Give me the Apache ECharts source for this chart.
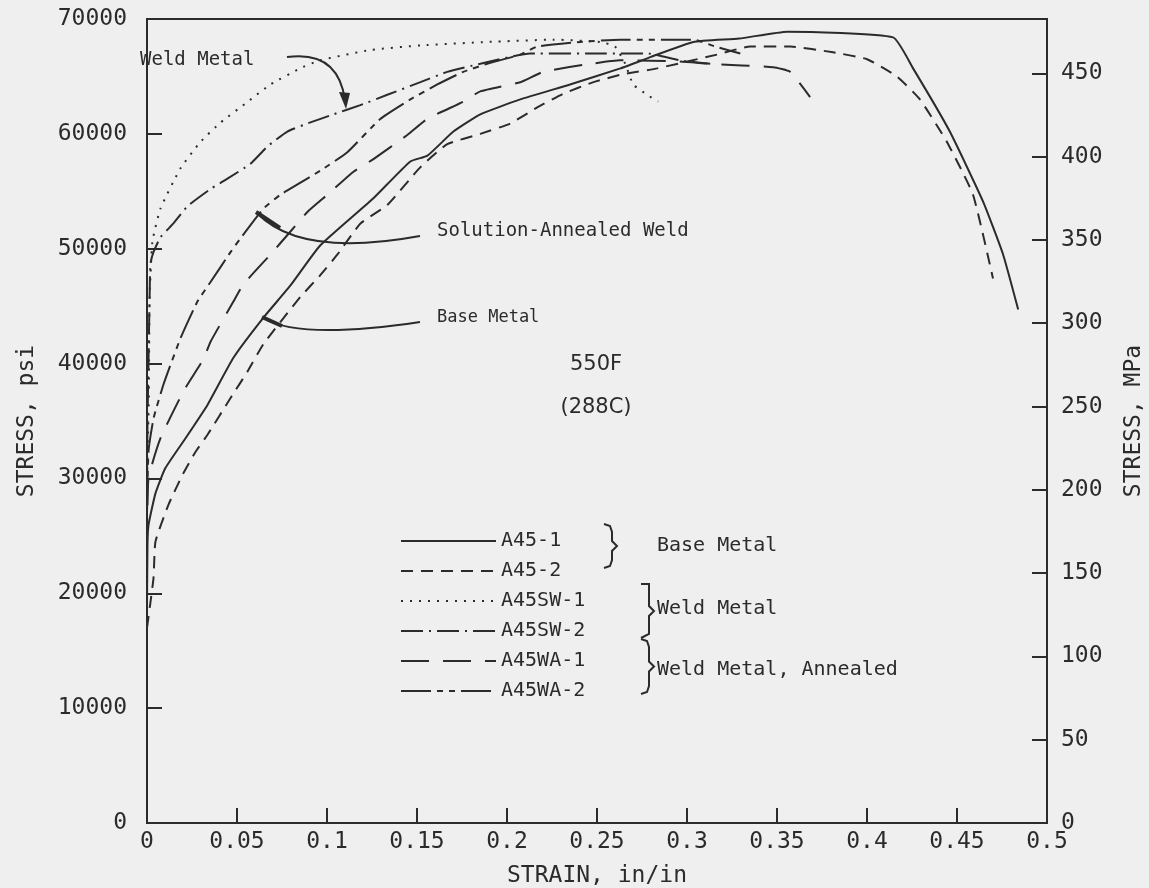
<!DOCTYPE html>
<html>
<head>
<meta charset="utf-8">
<script src="https://cdn.jsdelivr.net/npm/echarts@6/dist/echarts.min.js"></script>
<style>
  html, body { margin: 0; padding: 0; background: #efefef; }
  #chart { width: 1149px; height: 888px; }
</style>
</head>
<body>
<div id="chart"></div>
<script>
// Engineering stress-strain curves at 550F (288C), [strain in/in, stress psi]
const a45_1 = [
  [0, 19000], [0.0003, 24500], [0.0009, 26000], [0.0047, 28700], [0.0102, 30900],
  [0.0214, 33500], [0.0336, 36400], [0.048, 40500], [0.0647, 44000], [0.0797, 46800],
  [0.0963, 50300], [0.1258, 54400], [0.1463, 57600], [0.1558, 58100], [0.1702, 60200],
  [0.1852, 61700], [0.2074, 63000], [0.235, 64300], [0.263, 65700], [0.28, 66700],
  [0.3035, 68000], [0.329, 68300], [0.3557, 68900], [0.4145, 68400], [0.4256, 65700],
  [0.446, 60200], [0.4645, 54100], [0.4756, 49500], [0.484, 44700]
];
const a45_2 = [
  [0, 17000], [0.0036, 21300], [0.0047, 24500], [0.0119, 27700], [0.0197, 30300],
  [0.0269, 32300], [0.0336, 33800], [0.0464, 37000], [0.0558, 39300], [0.0647, 41700],
  [0.0852, 45800], [0.0963, 47700], [0.1058, 49500], [0.1186, 52200], [0.1335, 53800],
  [0.1519, 57100], [0.1668, 59100], [0.1852, 60000], [0.2018, 60900], [0.2168, 62300],
  [0.2313, 63500], [0.248, 64500], [0.2646, 65200], [0.2834, 65700], [0.3167, 66900],
  [0.3351, 67600], [0.3573, 67600], [0.3811, 67100], [0.4, 66500], [0.4166, 65000],
  [0.4294, 63000], [0.4444, 59300], [0.4589, 54700], [0.47, 47400]
];
const a45sw_1 = [
  [0, 30000], [0.001, 36700], [0.0014, 45400], [0.003, 50600], [0.0075, 53500],
  [0.0186, 57000], [0.0297, 59300], [0.041, 61000], [0.056, 62800], [0.0686, 64300],
  [0.085, 65700], [0.096, 66400], [0.124, 67300], [0.152, 67700], [0.189, 68000],
  [0.226, 68200], [0.2518, 68000], [0.26, 67600], [0.2657, 66100], [0.2701, 64300],
  [0.2779, 63400], [0.284, 62800]
];
const a45sw_2 = [
  [0, 30000], [0.0003, 35000], [0.0014, 45400], [0.0019, 48700], [0.0036, 49700],
  [0.0075, 51000], [0.0147, 52200], [0.0225, 53700], [0.0353, 55200], [0.0447, 56100],
  [0.0575, 57400], [0.0669, 58900], [0.078, 60200], [0.0908, 61000], [0.1036, 61700],
  [0.1185, 62500], [0.1335, 63400], [0.1519, 64500], [0.1668, 65400], [0.1852, 66100],
  [0.2129, 67000], [0.2518, 67000], [0.2779, 67000], [0.2962, 66400], [0.3129, 66100]
];
const a45wa_1 = [
  [0, 24000], [0.0008, 30000], [0.0075, 33500], [0.0203, 37600], [0.0314, 40400],
  [0.0353, 41900], [0.048, 45400], [0.0536, 46900], [0.0686, 49500], [0.0797, 51500],
  [0.0891, 53200], [0.1002, 54700], [0.1147, 56700], [0.1258, 57800], [0.1446, 59900],
  [0.1557, 61300], [0.1757, 62800], [0.1852, 63700], [0.2074, 64500], [0.2201, 65400],
  [0.2424, 66000], [0.2629, 66400], [0.2962, 66300], [0.3129, 66100], [0.3479, 65800],
  [0.3573, 65400], [0.3684, 63200]
];
const a45wa_2 = [
  [0, 27000], [0.0008, 32300], [0.0036, 35200], [0.0092, 38200], [0.0186, 42200],
  [0.028, 45400], [0.0353, 47100], [0.0464, 49700], [0.0519, 50900], [0.0647, 53500],
  [0.0741, 54700], [0.0836, 55600], [0.0963, 56800], [0.1113, 58400], [0.1296, 61300],
  [0.1463, 63000], [0.1613, 64300], [0.1757, 65400], [0.189, 66100], [0.2074, 66900],
  [0.2168, 67600], [0.2407, 68000], [0.263, 68200], [0.3035, 68200], [0.3157, 67600],
  [0.3296, 67000]
];

const seriesNames = ['A45-1', 'A45-2', 'A45SW-1', 'A45SW-2', 'A45WA-1', 'A45WA-2'];
const seriesData = [a45_1, a45_2, a45sw_1, a45sw_2, a45wa_1, a45wa_2];
const dashes = ['solid', [12, 8], [2, 7], [22, 6, 2, 6], [28, 14], [30, 6, 6, 6, 6, 6]];

const PSI_PER_MPA = 145.038;
const strainRange = [0, 0.5, 0.05];
const psiRange = [0, 70000, 10000];
const mpaInterval = 50;

const INK = '#2b2b2b';
const MONO = '"DejaVu Sans Mono", "Liberation Mono", monospace';

const chart = echarts.init(document.getElementById('chart'), null, { renderer: 'canvas' });

const series = seriesNames.map((name, i) => ({
  name: name,
  type: 'line',
  data: seriesData[i],
  showSymbol: false,
  symbol: 'none',
  smooth: 0.15,
  lineStyle: { color: INK, width: 2, type: dashes[i] },
  itemStyle: { color: INK },
  emphasis: { disabled: true },
  z: 3
}));

function label(x, y, text, font, align) {
  return {
    type: 'text', x: x, y: y, z: 10,
    style: { text: text, font: font, fill: INK, align: align || 'left', verticalAlign: 'middle' }
  };
}
function curve(x1, y1, cx, cy, x2, y2, w) {
  return {
    type: 'bezierCurve', z: 10,
    shape: { x1: x1, y1: y1, cpx1: cx, cpy1: cy, x2: x2, y2: y2 },
    style: { stroke: INK, lineWidth: w || 2, fill: null }
  };
}
function seg(x1, y1, x2, y2, w) {
  return { type: 'line', z: 10, shape: { x1: x1, y1: y1, x2: x2, y2: y2 }, style: { stroke: INK, lineWidth: w || 2 } };
}
// curly brace opening to the left, tip pointing right
function brace(x, yTop, yBot, squareTop) {
  const ym = (yTop + yBot) / 2;
  const pts = squareTop
    ? [[x, yTop], [x + 8, yTop], [x + 8, ym - 5], [x + 13, ym], [x + 8, ym + 5], [x + 8, yBot - 4], [x, yBot]]
    : [[x, yTop], [x + 6, yTop + 2], [x + 8, yTop + 8], [x + 8, ym - 5], [x + 13, ym], [x + 8, ym + 5], [x + 8, yBot - 8], [x + 6, yBot - 2], [x, yBot]];
  return { type: 'polyline', z: 10, shape: { points: pts }, style: { stroke: INK, lineWidth: 2, fill: null } };
}

const graphic = [
  label(140, 60, 'Weld Metal', '19px ' + MONO),
  curve(287, 57, 338, 50, 345, 100),
  { type: 'polygon', z: 10, shape: { points: [[346, 109], [339, 92], [350, 93]] }, style: { fill: INK } },

  label(437, 231, 'Solution-Annealed Weld', '19px ' + MONO),
  curve(420, 236, 300, 258, 257, 213),
  seg(256, 212, 280, 228, 4),

  label(437, 318, 'Base Metal', '17px ' + MONO),
  curve(420, 322, 300, 340, 263, 318),
  seg(262, 317, 282, 326, 4),

  label(596, 365, '550F', '21px "DejaVu Sans", sans-serif', 'center'),
  label(596, 408, '(288C)', '21px "DejaVu Sans", sans-serif', 'center'),

  brace(604, 524, 568, false),
  label(657, 546, 'Base Metal', '20px ' + MONO),
  brace(641, 584, 638, true),
  label(657, 609, 'Weld Metal', '20px ' + MONO),
  brace(641, 639, 694, false),
  label(657, 670, 'Weld Metal, Annealed', '20px ' + MONO)
];

const option = {
  backgroundColor: '#efefef',
  animation: false,
  grid: {
    left: 147, right: 102, top: 19, bottom: 65,
    containLabel: false,
    outerBoundsMode: 'none',
    show: true, borderColor: INK, borderWidth: 2, backgroundColor: 'transparent'
  },
  legend: {
    data: seriesNames,
    orient: 'vertical',
    left: 395,
    top: 526,
    itemWidth: 95,
    itemHeight: 14,
    itemGap: 10,
    itemStyle: { opacity: 0 },
    textStyle: { fontFamily: MONO, fontSize: 20, color: INK },
    selectedMode: false
  },
  xAxis: {
    type: 'value',
    min: strainRange[0], max: strainRange[1], interval: strainRange[2],
    name: 'STRAIN, in/in',
    nameLocation: 'middle',
    nameGap: 42,
    nameTextStyle: { fontFamily: MONO, fontSize: 23, color: INK },
    axisLine: { show: true, lineStyle: { color: INK, width: 2 } },
    axisTick: { show: true, inside: true, length: 15, lineStyle: { color: INK, width: 2 } },
    axisLabel: {
      fontFamily: MONO, fontSize: 23, color: INK, margin: 8,
      formatter: v => String(parseFloat(v.toFixed(2)))
    },
    splitLine: { show: false }
  },
  yAxis: [
    {
      type: 'value',
      min: psiRange[0], max: psiRange[1], interval: psiRange[2],
      name: 'STRESS, psi',
      nameLocation: 'middle',
      nameGap: 108,
      nameRotate: 90,
      nameTextStyle: { fontFamily: MONO, fontSize: 23, color: INK },
      axisLine: { show: true, lineStyle: { color: INK, width: 2 } },
      axisTick: { show: true, inside: true, length: 15, lineStyle: { color: INK, width: 2 } },
      axisLabel: { fontFamily: MONO, fontSize: 23, color: INK, margin: 20, formatter: v => String(v) },
      splitLine: { show: false }
    },
    {
      type: 'value',
      position: 'right',
      min: 0, max: psiRange[1] / PSI_PER_MPA, interval: mpaInterval,
      name: 'STRESS, MPa',
      nameLocation: 'middle',
      nameGap: 76,
      nameRotate: 90,
      nameTextStyle: { fontFamily: MONO, fontSize: 23, color: INK },
      axisLine: { show: true, lineStyle: { color: INK, width: 2 } },
      axisTick: { show: true, inside: true, length: 15, lineStyle: { color: INK, width: 2 } },
      axisLabel: {
        fontFamily: MONO, fontSize: 23, color: INK, margin: 14,
        showMaxLabel: false,
        formatter: v => (Math.abs(v % mpaInterval) < 1e-6 ? String(v) : '')
      },
      splitLine: { show: false }
    }
  ],
  series: series,
  graphic: graphic
};

chart.setOption(option);
</script>
</body>
</html>
